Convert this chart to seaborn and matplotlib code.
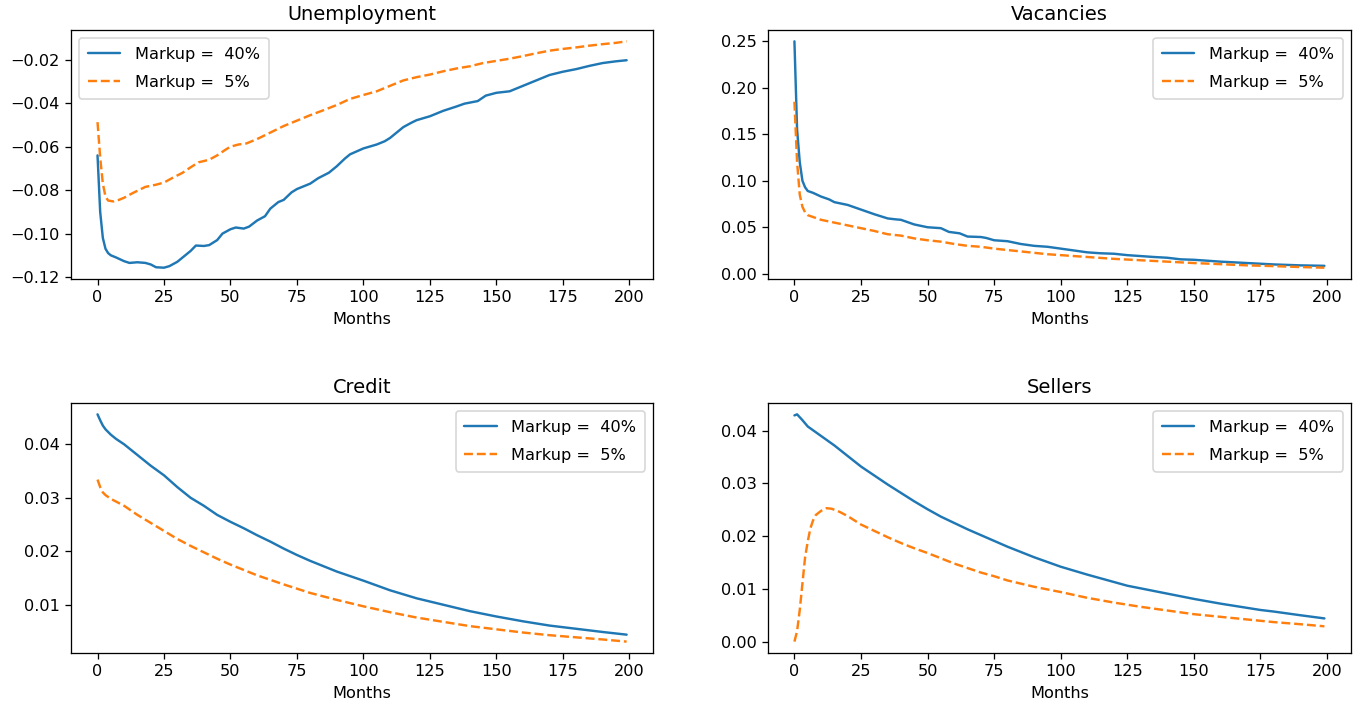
import numpy as np
import pandas as pd
import matplotlib
matplotlib.use("Agg")
import matplotlib.pyplot as plt
import seaborn as sns

lab_hi = "Markup =  40%"
lab_lo = "Markup =  5%"

# Unemployment
u_m_hi = [0, 1, 2, 3, 4, 5, 7, 10, 12, 15, 18, 20, 22, 25, 27, 30, 33, 35, 37, 40, 42, 45, 47, 50,
          52, 55, 57, 60, 63, 65, 68, 70, 73, 75, 80, 83, 87, 90, 93, 95, 100, 105, 108, 110, 115,
          118, 120, 125, 130, 135, 138, 143, 146, 150, 155, 160, 165, 170, 175, 180, 185, 190, 195, 199]
u_hi = [-0.064, -0.090, -0.102, -0.107, -0.109, -0.110, -0.111, -0.1127, -0.1135, -0.1132, -0.1135,
        -0.1142, -0.1155, -0.1157, -0.1150, -0.1130, -0.1100, -0.1080, -0.1055, -0.1057, -0.1053,
        -0.1030, -0.1000, -0.0980, -0.0972, -0.0977, -0.0968, -0.0940, -0.0920, -0.0885, -0.0855,
        -0.0845, -0.0810, -0.0795, -0.0770, -0.0745, -0.0720, -0.0690, -0.0655, -0.0635, -0.0608,
        -0.0590, -0.0575, -0.0560, -0.0510, -0.0490, -0.0478, -0.0460, -0.0435, -0.0415, -0.0402,
        -0.0390, -0.0365, -0.0352, -0.0345, -0.0320, -0.0295, -0.0270, -0.0255, -0.0243, -0.0228,
        -0.0215, -0.0207, -0.0202]
u_m_lo = [0, 1, 2, 3, 4, 6, 8, 10, 13, 16, 18, 22, 25, 28, 32, 35, 38, 42, 45, 48, 50, 53, 56, 60,
          65, 70, 75, 80, 85, 90, 95, 100, 105, 110, 115, 120, 125, 130, 135, 140, 145, 150, 155,
          160, 165, 170, 175, 180, 185, 190, 195, 199]
u_lo = [-0.0487, -0.0650, -0.0770, -0.0830, -0.0848, -0.0852, -0.0845, -0.0835, -0.0815, -0.0797,
        -0.0785, -0.0775, -0.0765, -0.0745, -0.0720, -0.0695, -0.0672, -0.0660, -0.0640, -0.0615,
        -0.0600, -0.0590, -0.0585, -0.0565, -0.0535, -0.0505, -0.0480, -0.0455, -0.0432, -0.0408,
        -0.0380, -0.0362, -0.0345, -0.0320, -0.0295, -0.0280, -0.0268, -0.0253, -0.0240, -0.0230,
        -0.0215, -0.0205, -0.0195, -0.0183, -0.0170, -0.0158, -0.0150, -0.0143, -0.0135, -0.0128,
        -0.0122, -0.0115]

# Vacancies
v_m_hi = [0, 1, 2, 3, 4, 5, 7, 10, 13, 15, 20, 22, 25, 30, 35, 38, 40, 45, 50, 55, 58, 62, 65, 70,
          72, 75, 80, 85, 90, 95, 100, 105, 110, 115, 120, 125, 130, 135, 140, 145, 150, 155, 160,
          170, 180, 190, 199]
v_hi = [0.250, 0.155, 0.120, 0.100, 0.093, 0.089, 0.087, 0.083, 0.080, 0.077, 0.074, 0.072, 0.069,
        0.064, 0.0595, 0.0585, 0.058, 0.053, 0.050, 0.049, 0.045, 0.0435, 0.040, 0.0395, 0.0385,
        0.036, 0.035, 0.032, 0.030, 0.029, 0.027, 0.025, 0.023, 0.022, 0.0215, 0.020, 0.019, 0.018,
        0.0172, 0.0155, 0.015, 0.014, 0.013, 0.0115, 0.010, 0.009, 0.0085]
v_m_lo = [0, 1, 2, 3, 4, 5, 7, 10, 15, 20, 25, 30, 35, 40, 45, 50, 55, 60, 65, 70, 75, 80, 85, 90,
          95, 100, 110, 120, 130, 140, 150, 160, 170, 180, 190, 199]
v_lo = [0.185, 0.120, 0.085, 0.072, 0.066, 0.063, 0.061, 0.058, 0.055, 0.052, 0.049, 0.046, 0.0425,
        0.041, 0.038, 0.036, 0.0345, 0.032, 0.030, 0.029, 0.027, 0.0255, 0.024, 0.0225, 0.021,
        0.020, 0.018, 0.016, 0.0145, 0.013, 0.0115, 0.0103, 0.009, 0.0082, 0.0072, 0.0065]

# Credit
c_m_hi = [0, 1, 2, 3, 5, 7, 10, 15, 20, 25, 30, 35, 40, 45, 50, 55, 60, 65, 70, 75, 80, 90, 100,
          110, 120, 130, 140, 150, 160, 170, 180, 190, 199]
c_hi = [0.0456, 0.0445, 0.0435, 0.0428, 0.0418, 0.0410, 0.0400, 0.0380, 0.0360, 0.0342, 0.0320,
        0.0300, 0.0285, 0.0268, 0.0255, 0.0243, 0.0230, 0.0218, 0.0205, 0.0193, 0.0182, 0.0162,
        0.0145, 0.0127, 0.0112, 0.0100, 0.0088, 0.0078, 0.0069, 0.0061, 0.0055, 0.0049, 0.0044]
c_m_lo = [0, 1, 2, 3, 5, 10, 15, 20, 25, 30, 35, 40, 45, 50, 60, 70, 80, 90, 100, 110, 120, 130,
          140, 150, 160, 170, 180, 190, 199]
c_lo = [0.0334, 0.0320, 0.0310, 0.0305, 0.0298, 0.0285, 0.0268, 0.0253, 0.0238, 0.0223, 0.0210,
        0.0198, 0.0186, 0.0175, 0.0155, 0.0138, 0.0122, 0.0109, 0.0097, 0.0086, 0.0076, 0.0068,
        0.0060, 0.0054, 0.0048, 0.0043, 0.0039, 0.0035, 0.0031]

# Sellers
s_m_hi = [0, 1, 3, 5, 10, 15, 20, 25, 30, 35, 40, 45, 50, 55, 60, 65, 70, 75, 80, 90, 100, 110,
          120, 125, 130, 140, 150, 160, 170, 175, 180, 190, 199]
s_hi = [0.0429, 0.0431, 0.0420, 0.0408, 0.0390, 0.0372, 0.0352, 0.0332, 0.0315, 0.0298, 0.0282,
        0.0266, 0.0251, 0.0237, 0.0225, 0.0213, 0.0202, 0.0191, 0.0180, 0.0160, 0.0142, 0.0127,
        0.0113, 0.0106, 0.0101, 0.0091, 0.0081, 0.0072, 0.0064, 0.0060, 0.0057, 0.0050, 0.0044]
s_m_lo = [0, 1, 2, 3, 4, 5, 6, 7, 8, 10, 12, 14, 17, 20, 25, 30, 35, 40, 45, 50, 60, 70, 75, 80,
          90, 100, 110, 120, 125, 130, 140, 150, 160, 170, 180, 190, 199]
s_lo = [0.0000, 0.0020, 0.0060, 0.0110, 0.0160, 0.0190, 0.0215, 0.0230, 0.0240, 0.0248, 0.0253,
        0.0252, 0.0246, 0.0238, 0.0222, 0.0210, 0.0198, 0.0187, 0.0177, 0.0168, 0.0148, 0.0131,
        0.0124, 0.0116, 0.0104, 0.0094, 0.0083, 0.0074, 0.0070, 0.0066, 0.0059, 0.0052, 0.0047,
        0.0042, 0.0037, 0.0033, 0.0029]

paneles = [
    ("Unemployment", u_m_hi, u_hi, u_m_lo, u_lo, "upper left"),
    ("Vacancies", v_m_hi, v_hi, v_m_lo, v_lo, "upper right"),
    ("Credit", c_m_hi, c_hi, c_m_lo, c_lo, "upper right"),
    ("Sellers", s_m_hi, s_hi, s_m_lo, s_lo, "upper right"),
]

sns.set_style("ticks")
plt.rcParams["font.family"] = ["DejaVu Sans"]
plt.rcParams["axes.edgecolor"] = "black"
plt.rcParams["xtick.color"] = "black"
plt.rcParams["ytick.color"] = "black"
plt.rcParams["text.color"] = "black"
plt.rcParams["axes.labelcolor"] = "black"

# 1364x706 px a 116 dpi
fig = plt.figure(figsize=(1364 / 116, 706 / 116), dpi=116)
posiciones = [
    [0.0521, 0.6048, 0.4267, 0.3527],
    [0.5630, 0.6048, 0.4274, 0.3527],
    [0.0521, 0.0751, 0.4267, 0.3541],
    [0.5630, 0.0751, 0.4274, 0.3541],
]

for pos, (titulo, mh, yh, ml, yl, loc) in zip(posiciones, paneles):
    ax = fig.add_axes(pos)
    sns.lineplot(x=mh, y=yh, ax=ax, color="#1f77b4", linewidth=1.5, label=lab_hi)
    sns.lineplot(x=ml, y=yl, ax=ax, color="#ff7f0e", linewidth=1.5, label=lab_lo,
                 linestyle="--")
    ax.set_title(titulo, fontsize=12)
    ax.set_xlabel("Months", fontsize=10)
    ax.set_xticks([0, 25, 50, 75, 100, 125, 150, 175, 200])
    ax.tick_params(labelsize=10, length=3.5, width=0.8)
    for sp in ax.spines.values():
        sp.set_linewidth(0.8)
    ax.legend(loc=loc, fontsize=10, frameon=True, framealpha=0.8, edgecolor="#cccccc",
              fancybox=True, labelspacing=0.8, borderpad=0.55, handletextpad=0.9)

fig.savefig("out.png", dpi=116)
